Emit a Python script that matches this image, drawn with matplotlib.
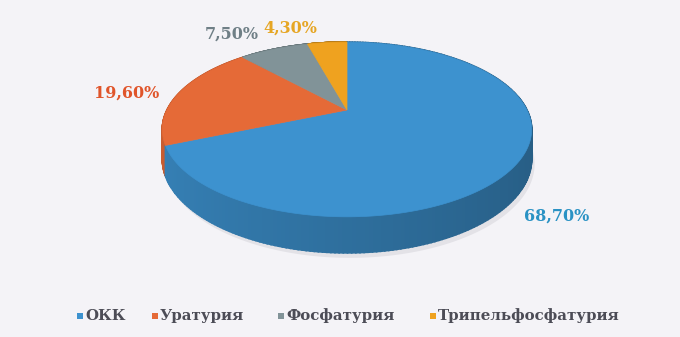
import numpy as np
import matplotlib.pyplot as plt
from matplotlib.patches import Polygon
from matplotlib.colors import to_rgb

# ---------- Data ----------
categories = ["ОКК", "Уратурия", "Фосфатурия", "Трипельфосфатурия"]
values = [68.7, 19.6, 7.5, 4.3]
labels = ["68,70%", "19,60%", "7,50%", "4,30%"]

colors = ["#3d92cf", "#e56a37", "#819398", "#efa21f"]
label_colors = ["#2a92c4", "#e0542a", "#6f7f86", "#e6a624"]
label_pos = [(557, 216), (127, 93), (232, 34), (290, 28)]
legend_x = [77, 152, 278, 430]

# ---------- Geometry (pixel space, simple perspective) ----------
cx, cy = 347, 110     # apex of the slices
A, B, k = 180, 83, 0.223
D = 28                # wall thickness

fig = plt.figure(figsize=(6.8, 3.37), dpi=100)
fig.patch.set_facecolor("#f4f3f7")
ax = fig.add_axes([0, 0, 1, 1])
ax.set_xlim(0, 680)
ax.set_ylim(337, 0)
ax.axis("off")


def proj(theta, r=1.0):
    t = np.radians(theta)
    u, v = r * np.cos(t), r * np.sin(t)
    w = 1 + k * v
    return cx + A * u / w, cy - B * v / w, w


def shade(c, f):
    return tuple(np.clip(np.array(to_rgb(c)) * f, 0, 1))


# slice angles: start at 12 o'clock, go clockwise
frac = np.array(values) / sum(values)
ends = 90 - np.cumsum(frac) * 360
starts = np.concatenate([[90], ends[:-1]])

# faint shadow under the pie
th = np.linspace(0, 360, 300)
sx, sy, sw = proj(th)
ax.add_patch(Polygon(np.c_[sx + 3, sy + D / sw + 5], closed=True,
                     fc="#dcdbe1", ec="none", alpha=0.7))

# side walls: small quads drawn far-to-near
quads = []
for s, e, c in zip(starts, ends, colors):
    th = np.linspace(e, s, 240)
    for a0, a1 in zip(th[:-1], th[1:]):
        x0, y0, w0 = proj(a0)
        x1, y1, w1 = proj(a1)
        u = np.cos(np.radians((a0 + a1) / 2))
        v = np.sin(np.radians((a0 + a1) / 2))
        f = 0.76 - 0.12 * u
        quads.append((v, [(x0, y0), (x1, y1), (x1, y1 + D / w1), (x0, y0 + D / w0)],
                      shade(c, f)))
quads.sort(key=lambda q: -q[0])
for _, pts, fc in quads:
    ax.add_patch(Polygon(pts, closed=True, fc=fc, ec=fc, lw=1.2))

# top face
for s, e, c in zip(starts, ends, colors):
    th = np.linspace(e, s, 200)
    x, y, _ = proj(th)
    ax.add_patch(Polygon(np.c_[np.r_[cx, x], np.r_[cy, y]], closed=True,
                         fc=c, ec=c, lw=0.5))

# labels
for (x, y), t, c in zip(label_pos, labels, label_colors):
    ax.text(x, y, t, color=c, fontsize=11.5, fontweight="bold",
            family="DejaVu Serif", ha="center", va="center")

# legend (manual placement)
for x, name, c in zip(legend_x, categories, colors):
    ax.add_patch(plt.Rectangle((x, 313), 6, 6, fc=c, ec="none"))
    ax.text(x + 8, 316, name, color="#4c4c56", fontsize=10.8, fontweight="bold",
            family="DejaVu Serif", ha="left", va="center")

fig.savefig("out.png", dpi=100, facecolor=fig.get_facecolor())
